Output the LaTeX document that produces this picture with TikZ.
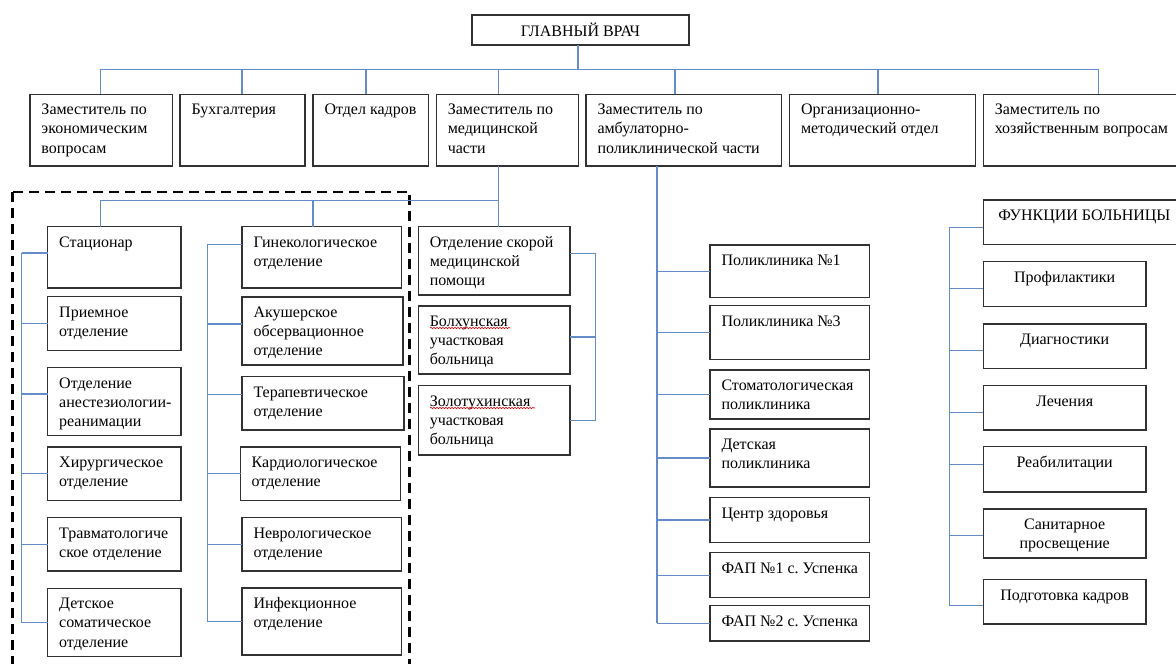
\documentclass[tikz,border=0pt]{standalone}
\usepackage{fontspec}
\setmainfont{Liberation Serif}
\usetikzlibrary{decorations.pathmorphing}
\definecolor{linkblue}{RGB}{100,140,200}
\definecolor{boxline}{RGB}{50,50,50}
\frenchspacing

% \obox[alignment]{name}{x}{y}{width}{height}{text}: a framed box, text set from the top
\newcommand\obox[7][\raggedright\leftskip=11.5pt\relax]{%
  \node[box] (#2) at (#3,#4)
    {\parbox[c][#6pt][t]{#5pt}{\hyphenpenalty=10000\vspace*{7pt}#1\strut #7}};}

\begin{document}
\begin{tikzpicture}[x=1pt,y=-1pt,
  box/.style={draw=boxline, line width=1.5pt, anchor=north west, inner sep=0pt,
              outer sep=0pt, font=\fontsize{16}{19.2}\selectfont},
  link/.style={draw=linkblue, line width=1.2pt},
  dashbox/.style={draw=black, line width=2.4pt, dash pattern=on 10pt off 6pt},
  squig/.style={draw=red!85!black, line width=0.6pt, decorate,
                decoration={snake, amplitude=0.7pt, segment length=3pt}}]
\useasboundingbox (0,0) rectangle (1176,664);
\clip (0,0) rectangle (1176,664);

% head of the hospital
\node[box, anchor=center, minimum width=217pt, minimum height=30pt] (chief) at (580.5,30) {ГЛАВНЫЙ ВРАЧ};

% deputies and departments
\obox{b1}{30}{94.3}{142.7}{71.7}{Заместитель по\\экономическим\\вопросам}
\obox{b2}{180}{94.3}{125}{71.7}{Бухгалтерия}
\obox{b3}{313}{94.3}{115.3}{71.7}{Отдел кадров}
\obox{b4}{436.3}{94.3}{142.2}{71.7}{Заместитель по\\медицинской\\части}
\obox{b5}{586}{94.3}{195.3}{71.7}{Заместитель по\\амбулаторно-\\поликлинической части}
\obox{b6}{789.5}{94.3}{185.8}{71.7}{Организационно-\\методический отдел}
\obox{b7}{983.3}{94.3}{220}{71.7}{Заместитель по\\хозяйственным вопросам}

% in-patient units
\draw[dashbox] (12.3,191.7) rectangle (409.3,720);
\obox{stac}{47.7}{226.7}{133.3}{61.3}{Стационар}
\obox{priem}{47.7}{296.7}{133.3}{54}{Приемное\\отделение}
\obox{anest}{47.7}{367.7}{133.3}{68}{Отделение\\анестезиологии-\\реанимации}
\obox{hir}{47.7}{447}{133.3}{53.7}{Хирургическое\\отделение}
\obox{travm}{47.7}{517.7}{133.3}{53.3}{Травматологиче\\ское отделение}
\obox{detsom}{47.7}{588.3}{133.3}{68.4}{Детское\\соматическое\\отделение}

\obox{gin}{242}{226.7}{159.5}{61.3}{Гинекологическое\\отделение}
\obox{akush}{242}{297}{161}{68}{Акушерское\\обсервационное\\отделение}
\obox{terap}{242}{376.7}{162}{53.3}{Терапевтическое\\отделение}
\obox[\raggedright\leftskip=11pt\relax]{kard}{240.7}{447}{160}{53.7}{Кардиологическое\\отделение}
\obox{nevr}{242}{517.7}{159.7}{53.3}{Неврологическое\\отделение}
\obox{infek}{242}{588}{159.7}{67}{Инфекционное\\отделение}

% emergency care and district hospitals
\obox{skor}{418.3}{226.7}{151.7}{68.3}{Отделение скорой\\медицинской\\помощи}
\obox{bolh}{418.3}{306}{151.7}{68}{Болхунская\\участковая\\больница}
\obox{zolot}{418.3}{385.7}{151.7}{69.3}{Золотухинская\\участковая\\больница}
\draw[squig] ([shift={(11.7,22)}]bolh.north west) -- ++(80,0);
\draw[squig] ([shift={(11.7,22.3)}]zolot.north west) -- ++(105,0);

% out-patient units
\obox{pol1}{710}{245}{159.3}{52.3}{Поликлиника №1}
\obox{pol3}{710}{305.7}{159.3}{53.6}{Поликлиника №3}
\obox{stom}{710}{370}{159.3}{49}{Стоматологическая\\поликлиника}
\obox{detpol}{710}{429}{159.3}{58}{Детская\\поликлиника}
\obox{cz}{710}{497.7}{159.3}{44.6}{Центр здоровья}
\obox{fap1}{710}{552.7}{159.3}{45}{ФАП №1 с. Успенка}
\obox{fap2}{710}{605.7}{159.3}{35.3}{ФАП №2 с. Успенка}

% hospital functions
\obox[\raggedright\leftskip=15pt\relax]{func}{983.3}{200}{220}{44.3}{ФУНКЦИИ БОЛЬНИЦЫ}
\obox[\centering]{prof}{983.3}{261.7}{162.7}{45}{Профилактики}
\obox[\centering]{diag}{983.3}{324}{162.7}{44.3}{Диагностики}
\obox[\centering]{lech}{983.3}{385.7}{162.7}{44.3}{Лечения}
\obox[\centering]{reab}{983.3}{446.7}{162.7}{45.3}{Реабилитации}
\obox[\centering]{san}{983.3}{509}{162.7}{49}{Санитарное\\просвещение}
\obox[\centering]{podg}{983.3}{579.7}{162.7}{44.3}{Подготовка кадров}

% ---- connectors ----
% top level bus
\coordinate (j0) at (578,69.3);
\coordinate (j1) at (100.7,69.3);
\coordinate (j2) at (242,69.3);
\coordinate (j3) at (366,69.3);
\coordinate (j4) at (498.3,69.3);
\coordinate (j5) at (675,69.3);
\coordinate (j6) at (878,69.3);
\coordinate (j7) at (1098.7,69.3);
\draw[link] (j0 |- chief.south) -- (j0);
\draw[link] (j1) -- (j7);
\foreach \j/\b in {j1/b1,j2/b2,j3/b3,j4/b4,j5/b5,j6/b6,j7/b7}
  \draw[link] (\j) -- (\j |- \b.north);

% medical deputy
\coordinate (m0) at (498.3,200.7);
\coordinate (m1) at (100.7,200.7);
\coordinate (m2) at (313,200.7);
\draw[link] (m0 |- b4.south) -- (m0 |- skor.north);
\draw[link] (m0) -- (m1) -- (m1 |- stac.north);
\draw[link] (m2) -- (m2 |- gin.north);

% left column spine
\coordinate (ls) at (21.7,0);
\path ([yshift=4.4pt]stac.west) coordinate (stacw)
      ([yshift=7.7pt]anest.west) coordinate (anestw);
\draw[link] (stacw -| ls) -- (detsom.west -| ls);
\foreach \n in {stacw,priem.west,anestw,hir.west,travm.west,detsom.west}
  \draw[link] (\n) -- (\n -| ls);

% right column spine
\coordinate (rs) at (207.7,0);
\path ([yshift=13pt]gin.west) coordinate (ginw)
      ([yshift=7pt]akush.west) coordinate (akushw)
      ([yshift=9pt]terap.west) coordinate (terapw);
\draw[link] (ginw -| rs) -- (infek.west -| rs);
\foreach \n in {ginw,akushw,terapw,kard.west,nevr.west,infek.west}
  \draw[link] (\n) -- (\n -| rs);

% bracket joining emergency care and district hospitals
\coordinate (rb) at (595.7,0);
\path ([yshift=7pt]skor.east) coordinate (skore)
      ([yshift=3pt]bolh.east) coordinate (bolhe);
\draw[link] (skore) -- (skore -| rb) -- (zolot.east -| rb) -- (zolot.east);
\draw[link] (bolhe) -- (bolhe -| rb);

% out-patient spine
\coordinate (as) at (657,0);
\draw[link] (as |- b5.south) -- (as |- fap2.west);
\foreach \n in {pol1,pol3,stom,detpol,cz,fap1,fap2}
  \draw[link] (\n.west) -- (\n.west -| as);

% functions spine
\coordinate (fs) at (949.3,0);
\path ([yshift=-5pt]func.west) coordinate (funcw)
      ([yshift=-4pt]prof.west) coordinate (profw)
      ([yshift=-4.5pt]diag.west) coordinate (diagw)
      ([yshift=-4.5pt]lech.west) coordinate (lechw)
      ([yshift=4.5pt]reab.west) coordinate (reabw)
      ([yshift=-2pt]san.west) coordinate (sanw)
      ([yshift=-4pt]podg.west) coordinate (podgw);
\draw[link] (funcw -| fs) -- (podgw -| fs);
\foreach \n in {funcw,profw,diagw,lechw,reabw,sanw,podgw}
  \draw[link] (\n) -- (\n -| fs);
\end{tikzpicture}
\end{document}
